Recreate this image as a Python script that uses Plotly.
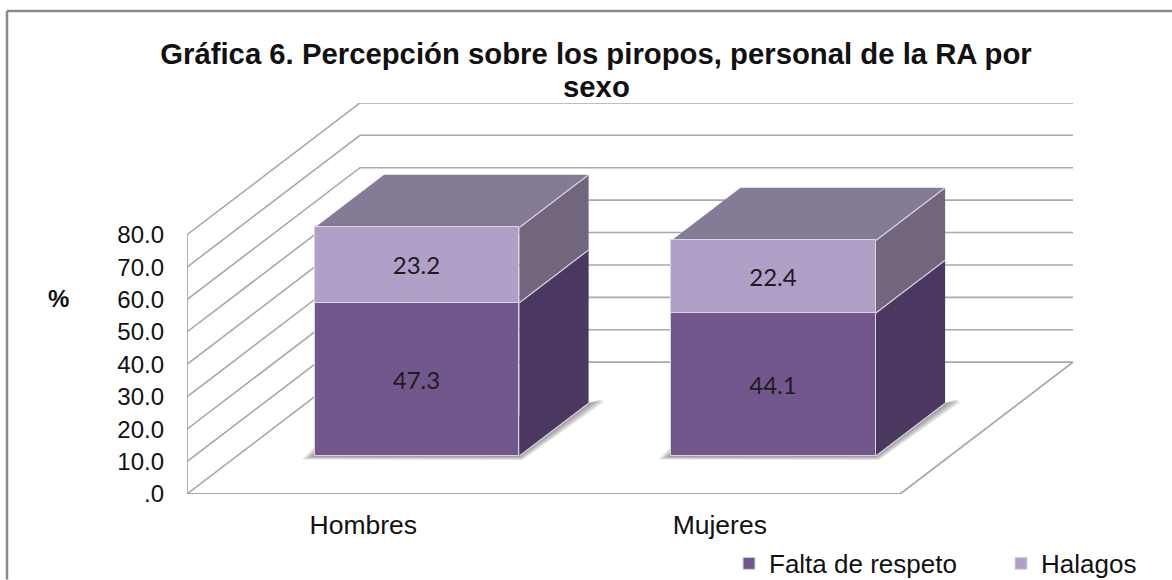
import plotly.graph_objects as go

categories = ["Hombres", "Mujeres"]
falta_de_respeto = [47.3, 44.1]
halagos = [23.2, 22.4]
y_ticks = [0, 10, 20, 30, 40, 50, 60, 70, 80]
y_tick_labels = [".0", "10.0", "20.0", "30.0", "40.0", "50.0", "60.0", "70.0", "80.0"]
title_line1 = "Gráfica 6. Percepción sobre los piropos, personal de la RA por"
title_line2 = "sexo"

W, H = 1172, 580
L, R, T, B = 187, 1073, 103, 494.5
PX_PER_CAT = 356.5
PX_PER_VAL = 3.245
X0 = -0.5
X1 = X0 + (R - L) / PX_PER_CAT
Y1 = (B - T) / PX_PER_VAL

# oblique depth projection
DX = 173 / PX_PER_CAT
DV = 132 / PX_PER_VAL
D0, D1 = 0.30, 0.70
BAR_W = 204.5 / PX_PER_CAT
DROP = 1.5 / PX_PER_VAL   # bars sit slightly lower than the pure projection
LABEL_SHIFT = -2 / PX_PER_CAT


def proj(x, v, d):
    return x + d * DX, v - DROP + d * DV


def shift(p, dx_px, dy_px):
    return p[0] + dx_px / PX_PER_CAT, p[1] - dy_px / PX_PER_VAL


def poly_xy(xy, color, z, opacity=1):
    xy = list(xy) + [xy[0]]
    return go.Scatter(
        x=[a for a, _ in xy], y=[b for _, b in xy], mode="lines",
        fill="toself", fillcolor=color, opacity=opacity,
        line=dict(color=color, width=0),
        showlegend=False, hoverinfo="skip", zorder=z, cliponaxis=False,
    )


def path(xy, color, width, z):
    return go.Scatter(x=[p[0] for p in xy], y=[p[1] for p in xy], mode="lines",
                      line=dict(color=color, width=width), showlegend=False,
                      hoverinfo="skip", zorder=z, cliponaxis=False)


def wall(x, v, d):
    return x + d * DX, v + d * DV


fig = go.Figure()
GRID = "#a9a9a9"
EDGE = "#d9d4e0"
x_end = X0 + 2

# walls & floor
for v in y_ticks:
    fig.add_trace(path([wall(X0, v, 0), wall(X0, v, 1), wall(x_end, v, 1)], GRID, 1.6, 0))
fig.add_trace(path([wall(X0, y_ticks[-1], 0), wall(X0, 0, 0), wall(x_end, 0, 0), wall(x_end, 0, 1)],
                   GRID, 1.8, 0))

# shadows, sides and tops
for i, c in enumerate(categories):
    l, r = i - BAR_W / 2, i + BAR_W / 2
    lo, mid, hi = 0, falta_de_respeto[i], falta_de_respeto[i] + halagos[i]
    FL, FR, BR = proj(l, lo, D0), proj(r, lo, D0), proj(r, lo, D1)
    for s in (1.0, 0.8, 0.6, 0.4, 0.2):
        fig.add_trace(poly_xy([shift(FL, -13 * s, 3.5 * s), shift(FR, 3 * s, 4 * s),
                               shift(BR, 15 * s, -1 * s), shift(BR, 13 * s, -4 * s), BR,
                               shift(FL, 0, -9 * s)], "#3c3c3c", 1, opacity=0.13))
    fig.add_trace(poly_xy([proj(r, lo, D0), proj(r, lo, D1), proj(r, mid, D1), proj(r, mid, D0)], "#4a3860", 2))
    fig.add_trace(poly_xy([proj(r, mid, D0), proj(r, mid, D1), proj(r, hi, D1), proj(r, hi, D0)], "#71667e", 2))
    fig.add_trace(poly_xy([proj(l, hi, D0), proj(r, hi, D0), proj(r, hi, D1), proj(l, hi, D1)], "#867b97", 2))
    for v in (lo, mid, hi):
        fig.add_trace(path([proj(r, v, D0), proj(r, v, D1)], EDGE, 1.2, 2))

# front faces
bar_x = [proj(i, 0, D0)[0] for i in range(len(categories))]
bar_base = [proj(0, 0, D0)[1]] * len(categories)
FONT_L = "Lato, Carlito, sans-serif"
fig.add_trace(go.Bar(name="Falta de respeto", x=bar_x, y=falta_de_respeto, base=bar_base,
                     width=BAR_W, marker=dict(color="#72578c", line=dict(color=EDGE, width=1)),
                     text=[f"{v:.1f}" for v in falta_de_respeto], textposition="inside",
                     insidetextanchor="middle", textangle=0, constraintext="none",
                     textfont=dict(family=FONT_L, size=24, color="#1c1c1c"),
                     hoverinfo="skip", zorder=3, legend="legend"))
fig.add_trace(go.Bar(name="Halagos", x=bar_x, y=halagos,
                     base=[b + v for b, v in zip(bar_base, falta_de_respeto)],
                     width=BAR_W, marker=dict(color="#b09fc6", line=dict(color=EDGE, width=1)),
                     text=[f"{v:.1f}" for v in halagos], textposition="inside",
                     insidetextanchor="middle", textangle=0, constraintext="none",
                     textfont=dict(family=FONT_L, size=24, color="#1c1c1c"),
                     hoverinfo="skip", zorder=3, legend="legend2"))


def px(x):
    return (x - L) / (R - L)


def py(y):
    return (B - y) / (B - T)


FONT = "Liberation Sans, Arial, sans-serif"
FRAME = dict(color="#8a8a8a", width=2.5)
LEG = dict(bgcolor="rgba(0,0,0,0)", font=dict(family=FONT, size=26, color="#111111"),
           itemclick=False, itemdoubleclick=False, yanchor="top", xanchor="left", y=py(540.5))
fig.update_layout(
    width=W, height=H, margin=dict(l=L, r=W - R, t=T, b=H - B, pad=0, autoexpand=False),
    paper_bgcolor="white", plot_bgcolor="white", barmode="overlay", bargap=0,
    title=dict(text=title_line1, xref="container", yref="container", x=596 / W, xanchor="center",
               y=1 - 54 / H, yanchor="middle",
               font=dict(family=FONT, size=29.3, color="#111111", weight="bold")),
    xaxis=dict(range=[X0, X1], tickmode="array",
               tickvals=[i + LABEL_SHIFT for i in range(len(categories))],
               ticktext=categories, showgrid=False, zeroline=False, showline=False, ticks="",
               automargin=False,
               ticklabelstandoff=12, tickfont=dict(family=FONT, size=26.5, color="#111111")),
    yaxis=dict(range=[0, Y1], tickmode="array", tickvals=y_ticks, ticktext=y_tick_labels,
               showgrid=False, zeroline=False, showline=False, ticks="",
               automargin=False,
               ticklabelstandoff=22, tickfont=dict(family=FONT, size=24, color="#111111")),
    legend=dict(x=px(729), **LEG),
    legend2=dict(x=px(1001), **LEG),
    annotations=[
        dict(text="<b>%</b>", xref="paper", yref="paper", x=px(58), y=py(299),
             xanchor="center", yanchor="middle",
             showarrow=False, font=dict(family=FONT, size=24, color="#111111")),
        dict(text="<b>" + title_line2 + "</b>", xref="paper", yref="paper", x=px(596), y=py(86),
             xanchor="center", yanchor="middle",
             showarrow=False, font=dict(family=FONT, size=29.3, color="#111111")),
    ],
    shapes=[
        dict(type="line", xref="paper", yref="paper", x0=px(7), x1=px(7), y0=py(11), y1=py(H), line=FRAME),
        dict(type="line", xref="paper", yref="paper", x0=px(7), x1=px(W), y0=py(11), y1=py(11), line=FRAME),
    ],
)

fig.write_html("out.html", post_script="document.body.style.margin='0';",
               config=dict(displayModeBar=False))
